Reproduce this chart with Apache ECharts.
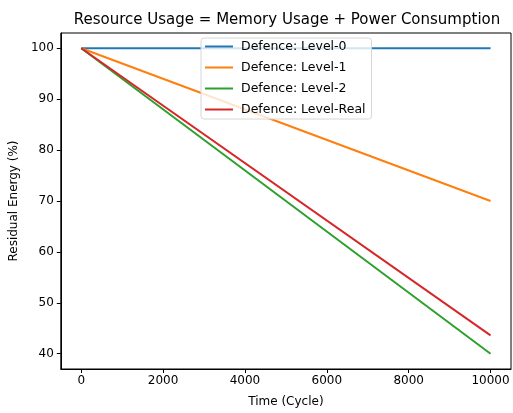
<!DOCTYPE html>
<html>
<head>
<meta charset="utf-8">
<script src="https://cdn.jsdelivr.net/npm/echarts@6/dist/echarts.min.js"></script>
<style>
  html, body { margin: 0; padding: 0; background: #fff; }
  #chart { width: 513px; height: 413px; }
</style>
</head>
<body>
<div id="chart"></div>
<script>
// data
const cycles = [0, 10000];
const level0 = [100, 100];
const level1 = [100, 70];
const level2 = [100, 40];
const levelReal = [100, 43.6];
const seriesNames = ["Defence: Level-0", "Defence: Level-1", "Defence: Level-2", "Defence: Level-Real"];
const xTicks = [0, 2000, 4000, 6000, 8000, 10000];
const yTicks = [40, 50, 60, 70, 80, 90, 100];

const colors = ["#1f77b4", "#ff7f0e", "#2ca02c", "#d62728"];
const font = "DejaVu Sans";

function pairs(ys) {
  return cycles.map((x, i) => [x, ys[i]]);
}

const chart = echarts.init(document.getElementById("chart"));
const option = {
  animation: false,
  color: colors,
  title: {
    text: "Resource Usage = Memory Usage + Power Consumption",
    left: 282,
    top: 8,
    textAlign: "center",
    textStyle: { fontFamily: font, fontSize: 15, fontWeight: "normal", color: "#000" },
  },
  grid: {
    left: 60, right: 2, top: 33, bottom: 44,
    show: true, borderColor: "#000", borderWidth: 1,
  },
  legend: {
    orient: "vertical",
    left: 201,
    top: 38,
    icon: "rect",
    itemWidth: 28,
    itemHeight: 2,
    itemGap: 8,
    padding: [2, 6, 3, 4],
    backgroundColor: "rgba(255,255,255,0.8)",
    borderColor: "#d6d6d6",
    borderWidth: 1,
    borderRadius: 3,
    textStyle: { fontFamily: font, fontSize: 12.5, color: "#000", padding: [0, 0, 0, 3] },
    data: seriesNames,
  },
  xAxis: {
    type: "value",
    min: -500,
    max: 10500,
    name: "Time (Cycle)",
    nameLocation: "middle",
    nameGap: 27,
    nameTextStyle: { fontFamily: font, fontSize: 12, color: "#000" },
    splitLine: { show: false },
    axisLine: { show: true, onZero: false, lineStyle: { color: "#000" } },
    axisTick: { show: true, length: 4, customValues: xTicks, lineStyle: { color: "#000" } },
    axisLabel: {
      customValues: xTicks, fontFamily: font, fontSize: 12, color: "#000", margin: 6,
      formatter: (v) => String(v),
    },
  },
  yAxis: {
    type: "value",
    min: 37,
    max: 103,
    name: "Residual Energy (%)",
    nameLocation: "middle",
    nameGap: 38,
    nameTextStyle: { fontFamily: font, fontSize: 12, color: "#000" },
    splitLine: { show: false },
    axisLine: { show: true, onZero: false, lineStyle: { color: "#000" } },
    axisTick: { show: true, length: 4, customValues: yTicks, lineStyle: { color: "#000" } },
    axisLabel: {
      customValues: yTicks, fontFamily: font, fontSize: 12, color: "#000", margin: 7,
      formatter: (v) => String(v),
    },
  },
  series: [level0, level1, level2, levelReal].map((ys, i) => ({
    name: seriesNames[i],
    type: "line",
    data: pairs(ys),
    symbol: "none",
    lineStyle: { width: 2 },
    z: 1,
  })),
};
chart.setOption(option);
</script>
</body>
</html>
